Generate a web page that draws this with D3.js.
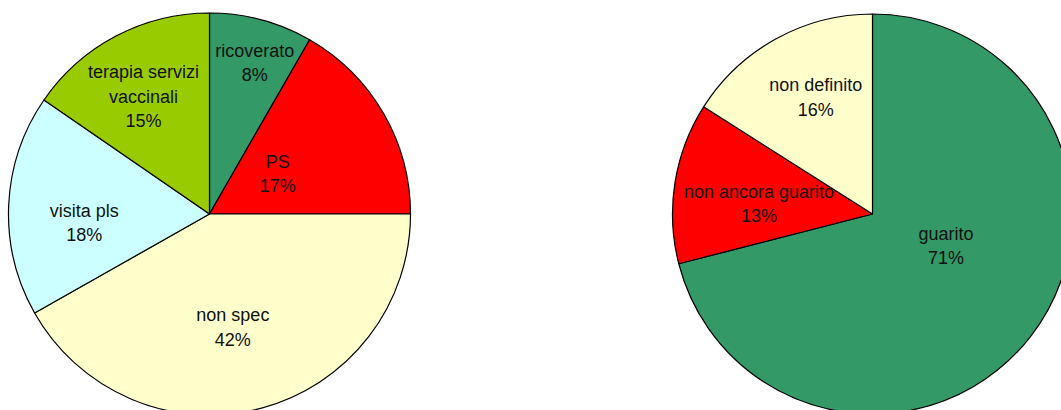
<!DOCTYPE html>
<html>
<head>
<meta charset="utf-8">
<script src="https://cdn.jsdelivr.net/npm/d3@7"></script>
<style>
  html, body { margin: 0; padding: 0; background: #fff; }
  svg { display: block; }
  text { font-family: "Liberation Sans", Arial, Helvetica, sans-serif; fill: #111; }
</style>
</head>
<body>
<svg id="chart" width="1061" height="410"></svg>
<script>
// Left pie: type of care received (clockwise from 12 o'clock)
const careCategories = [["ricoverato"], ["PS"], ["non spec"], ["visita pls"], ["terapia servizi", "vaccinali"]];
const careValues = [8.3, 16.7, 41.8, 17.8, 15.4];
const careColors = ["#339966", "#ff0000", "#ffffcc", "#ccffff", "#99cc00"];

// Right pie: outcome (clockwise from 12 o'clock)
const outcomeCategories = [["guarito"], ["non ancora guarito"], ["non definito"]];
const outcomeValues = [71.0, 13.0, 16.0];
const outcomeColors = ["#339966", "#ff0000", "#ffffcc"];

// Label placement: radius as a fraction of the pie radius, angular nudge in degrees
const careLabelPos = [[0.785, 1.7], [0.395, -0.6], [0.575, 3.1], [0.625, -6.5], [0.67, -1.6]];
const outcomeLabelPos = [[0.40, -14.4], [0.57, -3.7], [0.65, 2.9]];

const svg = d3.select("#chart");

function drawPie(cx, cy, r, cats, vals, colors, labelPos) {
  const total = d3.sum(vals);
  const pie = d3.pie().sort(null).value(d => d)(vals);
  const arc = d3.arc().innerRadius(0).outerRadius(r);
  const g = svg.append("g").attr("transform", `translate(${cx},${cy})`);

  g.selectAll("path.slice")
    .data(pie)
    .join("path")
    .attr("class", "slice")
    .attr("d", arc)
    .attr("fill", (d, i) => colors[i])
    .attr("stroke", "#000")
    .attr("stroke-width", 1.2)
    .attr("stroke-linejoin", "round");

  const lineH = 24.5;
  pie.forEach((d, i) => {
    const mid = (d.startAngle + d.endAngle) / 2 + labelPos[i][1] * Math.PI / 180;
    const lr = r * labelPos[i][0];
    const x = lr * Math.sin(mid);
    const y = -lr * Math.cos(mid);
    const lines = cats[i].concat([Math.round(vals[i] / total * 100) + "%"]);
    const t = g.append("text")
      .attr("text-anchor", "middle")
      .attr("font-size", "18px");
    const y0 = y - (lines.length - 1) * lineH / 2;
    lines.forEach((s, k) => {
      t.append("tspan")
        .attr("x", x)
        .attr("y", y0 + k * lineH)
        .attr("dy", "0.35em")
        .text(s);
    });
  });
}

drawPie(209.5, 214, 201, careCategories, careValues, careColors, careLabelPos);
drawPie(872.5, 214, 200, outcomeCategories, outcomeValues, outcomeColors, outcomeLabelPos);
</script>
</body>
</html>
